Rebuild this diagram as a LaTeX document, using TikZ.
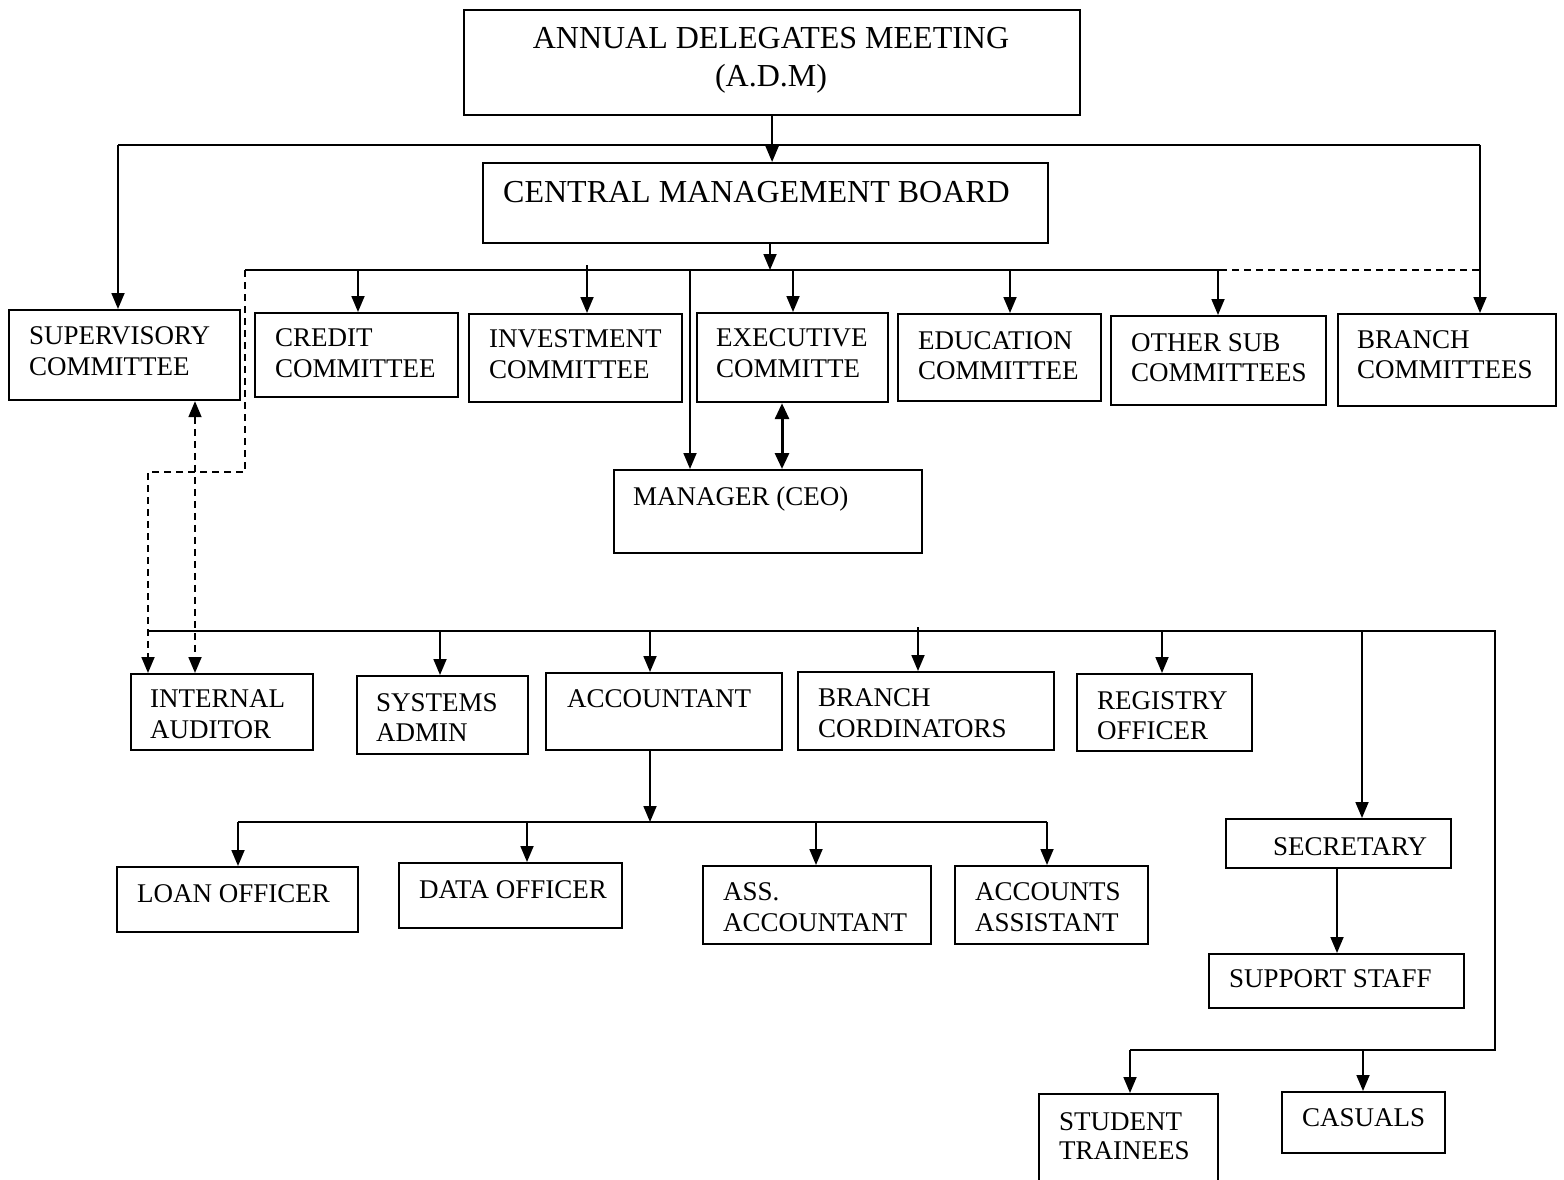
\documentclass[tikz,border=0pt]{standalone}
\usepackage{fontspec}
\setmainfont{Liberation Serif}
\usetikzlibrary{arrows.meta}
\begin{document}
\begin{tikzpicture}[x=1pt,y=-1pt,
  orgb/.style={draw, line width=2.2pt, rectangle, inner sep=0pt, anchor=north west},
  lbl/.style={inner sep=0pt, anchor=base west, font=\fontsize{27}{31}\selectfont},
  big/.style={inner sep=0pt, anchor=base, font=\fontsize{32}{38}\selectfont},
  conn/.style={line width=1.8pt},
  arr/.style={conn, -{Triangle[length=16pt,width=13pt]}},
  dsh/.style={conn, dash pattern=on 7pt off 5pt},
  darr/.style={dsh, -{Triangle[length=16pt,width=13pt]}},
  ddarr/.style={dsh, {Triangle[length=16pt,width=13pt]}-{Triangle[length=16pt,width=13pt]}},
  bothw/.style={line width=3pt, {Triangle[length=16pt,width=14pt]}-{Triangle[length=16pt,width=14pt]}}
]
\useasboundingbox (0,0) rectangle (1564,1180);
\clip (0,0) rectangle (1564,1180);
\fill[white] (0,0) rectangle (1564,1180);

% boxes
\node[orgb, minimum width=616pt, minimum height=105pt] (adm) at (463,9) {};
\node[orgb, minimum width=565pt, minimum height=80pt] (cmb) at (482,162) {};
\node[orgb, minimum width=231pt, minimum height=90pt] (sup) at (8,309) {};
\node[orgb, minimum width=203pt, minimum height=84pt] (cred) at (254,312) {};
\node[orgb, minimum width=213pt, minimum height=88pt] (inv) at (468,313) {};
\node[orgb, minimum width=191pt, minimum height=89pt] (exe) at (696,312) {};
\node[orgb, minimum width=203pt, minimum height=87pt] (edu) at (897,313) {};
\node[orgb, minimum width=215pt, minimum height=89pt] (oth) at (1110,315) {};
\node[orgb, minimum width=218pt, minimum height=92pt] (brc) at (1337,313) {};
\node[orgb, minimum width=308pt, minimum height=83pt] (mgr) at (613,469) {};
\node[orgb, minimum width=182pt, minimum height=76pt] (ia) at (130,673) {};
\node[orgb, minimum width=171pt, minimum height=78pt] (sys) at (356,675) {};
\node[orgb, minimum width=236pt, minimum height=77pt] (acc) at (545,672) {};
\node[orgb, minimum width=256pt, minimum height=78pt] (bco) at (797,671) {};
\node[orgb, minimum width=175pt, minimum height=77pt] (reg) at (1076,673) {};
\node[orgb, minimum width=241pt, minimum height=65pt] (loan) at (116,866) {};
\node[orgb, minimum width=223pt, minimum height=65pt] (data) at (398,862) {};
\node[orgb, minimum width=228pt, minimum height=78pt] (ass) at (702,865) {};
\node[orgb, minimum width=193pt, minimum height=78pt] (aca) at (954,865) {};
\node[orgb, minimum width=225pt, minimum height=49pt] (sec) at (1225,818) {};
\node[orgb, minimum width=255pt, minimum height=54pt] (sst) at (1208,953) {};
\node[orgb, minimum width=179pt, minimum height=110pt] (stu) at (1038,1093) {};
\node[orgb, minimum width=163pt, minimum height=61pt] (cas) at (1281,1091) {};

% texts
\node[big] (admA) at (771,49) {ANNUAL DELEGATES MEETING};
\node[big] (admB) at (771,87) {(A.D.M)};
\node[big, anchor=base west] (cmbA) at (503,202) {CENTRAL MANAGEMENT BOARD};
\node[lbl] (supA) at (29,344) {SUPERVISORY};
\node[lbl] (supB) at (29,375) {COMMITTEE};
\node[lbl] (credA) at (275,346) {CREDIT};
\node[lbl] (credB) at (275,377) {COMMITTEE};
\node[lbl] (invA) at (489,347) {INVESTMENT};
\node[lbl] (invB) at (489,378) {COMMITTEE};
\node[lbl] (exeA) at (716,346) {EXECUTIVE};
\node[lbl] (exeB) at (716,377) {COMMITTE};
\node[lbl] (eduA) at (918,349) {EDUCATION};
\node[lbl] (eduB) at (918,379) {COMMITTEE};
\node[lbl] (othA) at (1131,351) {OTHER SUB};
\node[lbl] (othB) at (1131,381) {COMMITTEES};
\node[lbl] (brcA) at (1357,348) {BRANCH};
\node[lbl] (brcB) at (1357,378) {COMMITTEES};
\node[lbl] (mgrA) at (633,505) {MANAGER (CEO)};
\node[lbl] (iaA) at (150,707) {INTERNAL};
\node[lbl] (iaB) at (150,738) {AUDITOR};
\node[lbl] (sysA) at (376,711) {SYSTEMS};
\node[lbl] (sysB) at (376,741) {ADMIN};
\node[lbl] (accA) at (567,707) {ACCOUNTANT};
\node[lbl] (bcoA) at (818,706) {BRANCH};
\node[lbl] (bcoB) at (818,737) {CORDINATORS};
\node[lbl] (regA) at (1097,709) {REGISTRY};
\node[lbl] (regB) at (1097,739) {OFFICER};
\node[lbl] (loanA) at (137,902) {LOAN OFFICER};
\node[lbl] (dataA) at (419,898) {DATA OFFICER};
\node[lbl] (assA) at (723,900) {ASS.};
\node[lbl] (assB) at (723,931) {ACCOUNTANT};
\node[lbl] (acaA) at (975,900) {ACCOUNTS};
\node[lbl] (acaB) at (975,931) {ASSISTANT};
\node[lbl] (secA) at (1273,855) {SECRETARY};
\node[lbl] (sstA) at (1229,987) {SUPPORT STAFF};
\node[lbl] (stuA) at (1059,1130) {STUDENT};
\node[lbl] (stuB) at (1059,1159) {TRAINEES};
\node[lbl] (casA) at (1302,1126) {CASUALS};

% ADM -> CMB and top bus
\draw[arr] (adm.south) -- (adm.south |- cmb.north);
\coordinate (t1) at (118,145);
\coordinate (t2) at (1480,145);
\draw[conn] (t1) -- (t2);
\draw[arr] (t1) -- (t1 |- sup.north);
\draw[arr] (t2) -- (t2 |- brc.north);

% CMB -> committee bus
\coordinate (b2) at (770,270);
\coordinate (b2L) at (245,270);
\coordinate (b2M) at (1220,270);
\coordinate (b2R) at (1480,270);
\draw[arr] (b2 |- cmb.south) -- (b2);
\draw[conn] (b2L) -- (b2M);
\draw[dsh] (b2M) -- (b2R);
\coordinate (dC) at (358,270);
\coordinate (dI) at (587,265);
\coordinate (dE) at (793,270);
\coordinate (dD) at (1010,270);
\coordinate (dO) at (1218,270);
\coordinate (dM) at (690,270);
\draw[arr] (dC) -- (dC |- cred.north);
\draw[arr] (dI) -- (dI |- inv.north);
\draw[arr] (dE) -- (dE |- exe.north);
\draw[arr] (dD) -- (dD |- edu.north);
\draw[arr] (dO) -- (dO |- oth.north);
\draw[arr] (dM) -- (dM |- mgr.north);
\coordinate (dx) at (782,0);
\draw[bothw] (dx |- exe.south) -- (dx |- mgr.north);

% dashed links to internal auditor
\coordinate (q1) at (245,472);
\coordinate (q2) at (148,472);
\draw[darr] (b2L) -- (q1) -- (q2) -- (q2 |- ia.north);
\coordinate (q3) at (195,0);
\draw[ddarr] (q3 |- sup.south) -- (q3 |- ia.north);

% staff bus
\coordinate (c1) at (148,631);
\coordinate (c2) at (1495,631);
\coordinate (c3) at (1495,1050);
\coordinate (c4) at (1130,1050);
\draw[conn] (c1) -- (c2) -- (c3) -- (c4);
\coordinate (eS) at (440,631);
\coordinate (eA) at (650,631);
\coordinate (eB) at (918,627);
\coordinate (eR) at (1162,631);
\coordinate (eT) at (1362,631);
\draw[arr] (eS) -- (eS |- sys.north);
\draw[arr] (eA) -- (eA |- acc.north);
\draw[arr] (eB) -- (eB |- bco.north);
\draw[arr] (eR) -- (eR |- reg.north);
\draw[arr] (eT) -- (eT |- sec.north);
\coordinate (fC) at (1363,1050);
\draw[arr] (c4) -- (c4 |- stu.north);
\draw[arr] (fC) -- (fC |- cas.north);

% accountant bus
\coordinate (a0) at (650,822);
\coordinate (a1) at (238,822);
\coordinate (a4) at (1047,822);
\coordinate (a2) at (527,822);
\coordinate (a3) at (816,822);
\draw[arr] (a0 |- acc.south) -- (a0);
\draw[conn] (a1) -- (a4);
\draw[arr] (a1) -- (a1 |- loan.north);
\draw[arr] (a2) -- (a2 |- data.north);
\draw[arr] (a3) -- (a3 |- ass.north);
\draw[arr] (a4) -- (a4 |- aca.north);

% secretary -> support staff
\coordinate (s0) at (1337,0);
\draw[arr] (s0 |- sec.south) -- (s0 |- sst.north);
\end{tikzpicture}
\end{document}
